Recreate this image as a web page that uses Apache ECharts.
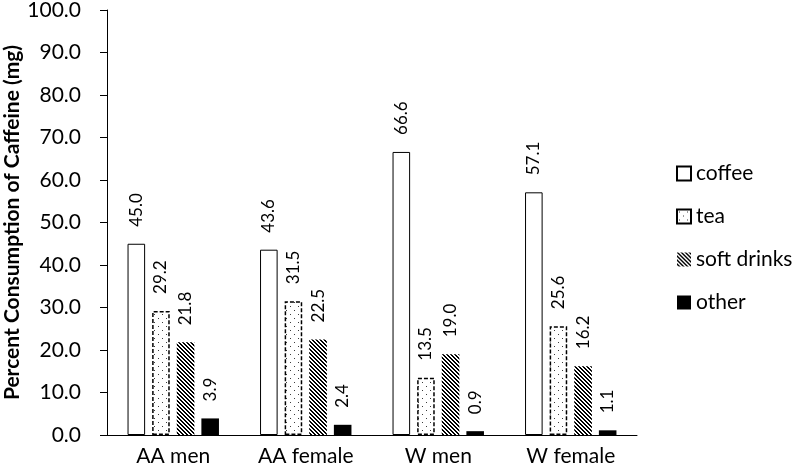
<!DOCTYPE html>
<html><head><meta charset="utf-8">
<script src="https://cdn.jsdelivr.net/npm/echarts@6/dist/echarts.min.js"></script>
<style>html,body{margin:0;padding:0;background:#fff}#c{width:792px;height:474px}</style>
</head><body><div id="c"></div>
<script>
const categories = ['AA men', 'AA female', 'W men', 'W female'];
const seriesNames = ['coffee', 'tea', 'soft drinks', 'other'];
const coffee = [45.0, 43.6, 66.6, 57.1];
const tea = [29.2, 31.5, 13.5, 25.6];
const softDrinks = [21.8, 22.5, 19.0, 16.2];
const other = [3.9, 2.4, 0.9, 1.1];
const yTicks = { min: 0, max: 100, interval: 10 };

function makeTile(size, fn) {
  const c = document.createElement('canvas');
  c.width = size; c.height = size;
  const ctx = c.getContext('2d');
  const img = ctx.createImageData(size, size);
  for (let y = 0; y < size; y++) for (let x = 0; x < size; x++) {
    const v = fn(x, y);
    const i = (y * size + x) * 4;
    img.data[i] = v; img.data[i+1] = v; img.data[i+2] = v; img.data[i+3] = 255;
  }
  ctx.putImageData(img, 0, 0);
  return c;
}
const hatch = makeTile(4, (x, y) => (((x - y) % 4 + 4) % 4) < 2 ? 0 : 255);
const dots = makeTile(8, (x, y) => ((x === 2 && y === 2) || (x === 6 && y === 6)) ? 60 : 255);

const FONT = 'Lato';
const styles = [
  { color: '#ffffff', borderColor: '#000', borderWidth: 1 },
  { color: { image: dots, repeat: 'repeat' }, borderColor: '#000', borderWidth: 1.5, borderType: [4, 2] },
  { color: { image: hatch, repeat: 'repeat' }, borderWidth: 0 },
  { color: '#000000', borderWidth: 0 }
];
const dataArr = [coffee, tea, softDrinks, other];

const series = dataArr.map((d, i) => ({
  name: seriesNames[i],
  type: 'bar',
  data: d,
  barGap: '40%',
  barCategoryGap: '31%',
  itemStyle: styles[i],
  label: {
    show: true, position: 'top', rotate: 90, align: 'left', verticalAlign: 'middle',
    distance: 17, color: '#000', fontFamily: FONT, fontSize: 17,
    formatter: p => p.value.toFixed(1)
  }
}));

const chart = echarts.init(document.getElementById('c'), null, { renderer: 'canvas' });
chart.setOption({
  animation: false,
  backgroundColor: '#fff',
  textStyle: { fontFamily: FONT },
  grid: { left: 107, right: 155, top: 10, bottom: 39, containLabel: false, outerBoundsMode: 'none' },
  legend: {
    orient: 'vertical', left: 671, top: 158, itemWidth: 14, itemHeight: 14, itemGap: 22,
    icon: 'rect',
    textStyle: { fontFamily: FONT, fontSize: 21, color: '#000' },
    data: seriesNames
  },
  xAxis: {
    type: 'category', data: categories,
    axisLine: { lineStyle: { color: '#000', width: 1 } },
    axisTick: { show: true, length: 0 },
    axisLabel: { color: '#000', fontFamily: FONT, fontSize: 21, margin: 11 }
  },
  yAxis: {
    type: 'value', min: yTicks.min, max: yTicks.max, interval: yTicks.interval,
    name: 'Percent Consumption of Caffeine (mg)', nameLocation: 'middle', nameGap: 84,
    nameMoveOverlap: false,
    nameTextStyle: { fontFamily: FONT, fontSize: 21, fontWeight: 'bold', color: '#000' },
    axisLine: { show: true, lineStyle: { color: '#000', width: 1 } },
    axisTick: { show: true, length: 7, lineStyle: { color: '#000' } },
    splitLine: { show: false },
    axisLabel: { color: '#000', fontFamily: FONT, fontSize: 21, margin: 26, formatter: v => v.toFixed(1) }
  },
  series: series
});
</script></body></html>
